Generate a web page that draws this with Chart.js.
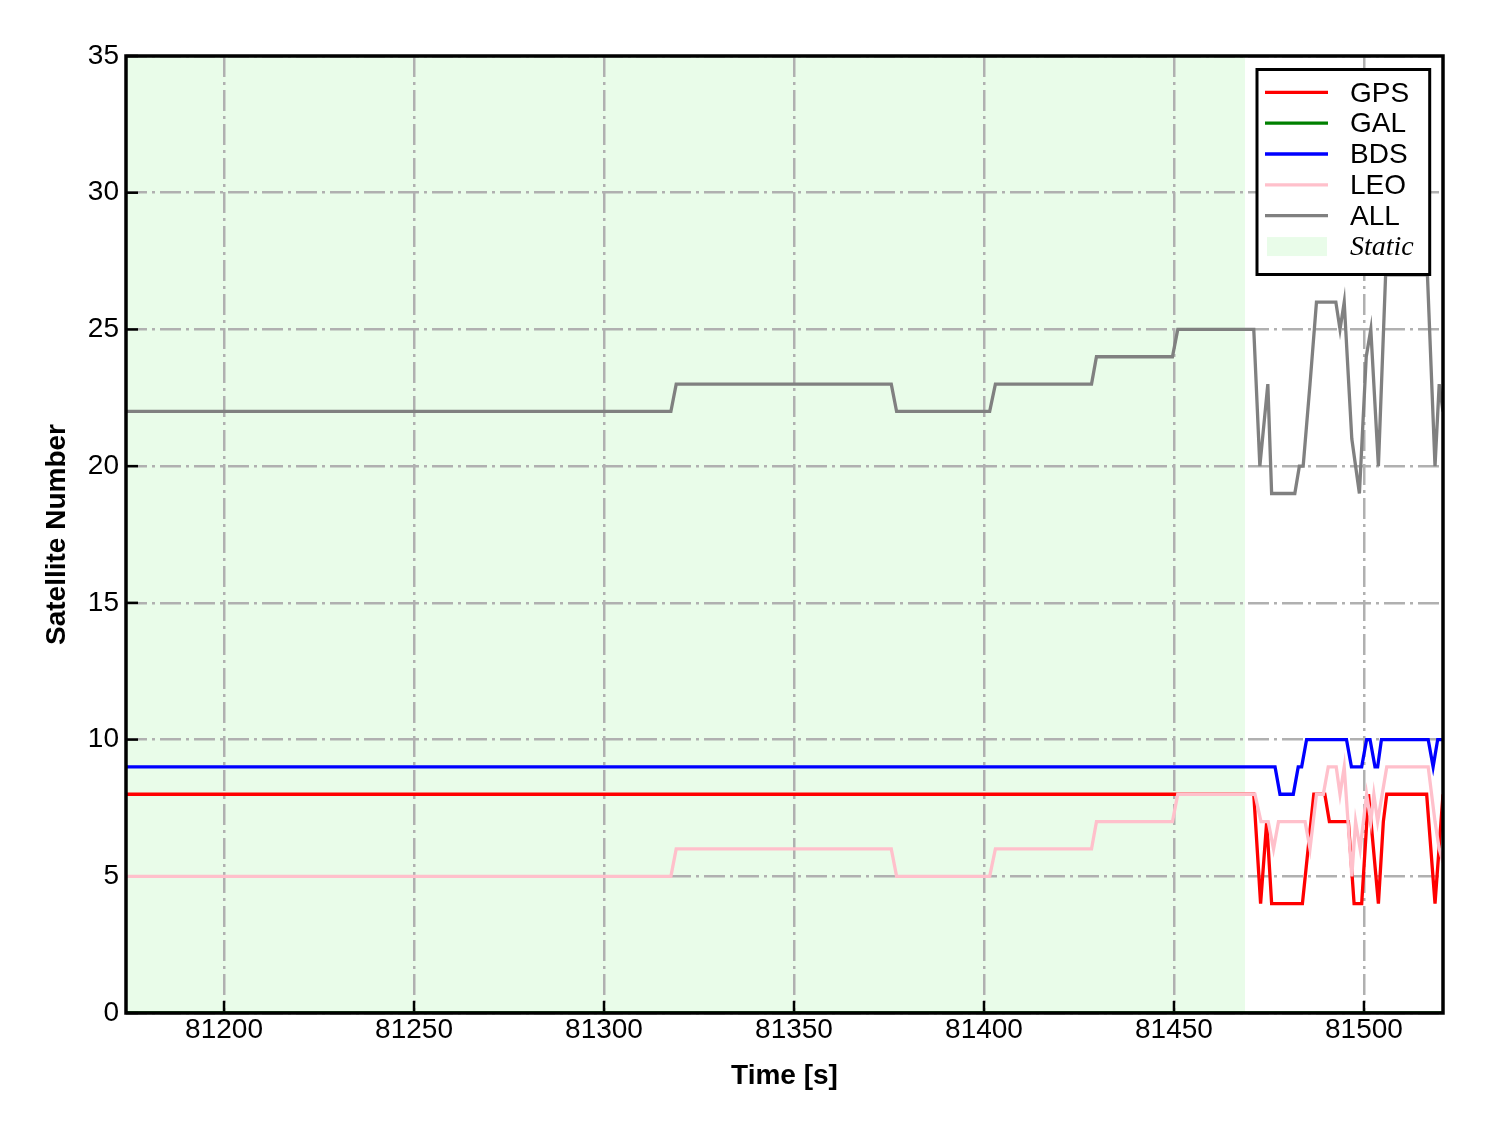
<!DOCTYPE html>
<html>
<head>
<meta charset="utf-8">
<title>Satellite Number</title>
<script src="https://cdn.jsdelivr.net/npm/chart.js@4.4.1/dist/chart.umd.min.js"></script>
<style>
    html, body { margin: 0; padding: 0; background: #fff; }
    #wrap { width: 1488px; height: 1133px; }
</style>
</head>
<body>
<div id="wrap"><canvas id="satChart" width="1488" height="1133"></canvas></div>
<script>
// change points: time [s] and satellite count
var gpsTime = [81174.2, 81471, 81472.8, 81474.4, 81475.7, 81483.8, 81486.8, 81489.7, 81490.9, 81495.9, 81497.4, 81499.4, 81501.2, 81503.8, 81505.1, 81506, 81516.5, 81518.7, 81520.8];
var gpsCount = [8, 8, 4, 7, 4, 4, 8, 8, 7, 7, 4, 4, 8, 4, 7, 8, 8, 4, 8];

var galTime = [81174.2, 81520.8];
var galCount = [0, 0];

var bdsTime = [81174.2, 81476.6, 81477.9, 81481.4, 81482.7, 81483.6, 81484.9, 81495.4, 81496.7, 81499.4, 81500.7, 81501.6, 81502.9, 81503.6, 81504.6, 81516.9, 81518.2, 81519.4, 81520.8];
var bdsCount = [9, 9, 8, 8, 9, 9, 10, 10, 9, 9, 10, 10, 9, 9, 10, 10, 9, 10, 10];

var leoTime = [81174.2, 81317.6, 81319, 81375.6, 81377, 81401.5, 81403, 81428.3, 81429.6, 81449.6, 81451, 81471.3, 81472.9, 81474.8, 81476.2, 81477.5, 81484.5, 81485.8, 81487.5, 81489.3, 81490.6, 81492.7, 81493.7, 81494.8, 81496.8, 81497.8, 81499, 81500.7, 81501.8, 81502.6, 81503.6, 81506, 81516.9, 81518.7, 81519.8, 81520.8];
var leoCount = [5, 5, 6, 6, 5, 5, 6, 6, 7, 7, 8, 8, 7, 7, 6, 7, 7, 6, 8, 8, 9, 9, 8, 9, 5, 7, 6, 8, 7, 8, 7, 9, 9, 7, 6, 5.5];

var allTime = [81174.2, 81317.6, 81319, 81375.6, 81377, 81401.5, 81403, 81428.3, 81429.6, 81449.6, 81451, 81471, 81472.6, 81474.7, 81475.7, 81481.8, 81483, 81484, 81485.8, 81487.5, 81492.6, 81493.7, 81494.8, 81496.8, 81498.8, 81500.6, 81501.8, 81503.8, 81505.7, 81516.7, 81518.7, 81519.8, 81520.8];
var allCount = [22, 22, 23, 23, 22, 22, 23, 23, 24, 24, 25, 25, 20, 23, 19, 19, 20, 20, 23, 26, 26, 25, 26, 21, 19, 24, 25, 20, 27, 27, 20, 23, 22];

var seriesNames = ['GPS', 'GAL', 'BDS', 'LEO', 'ALL'];
var seriesColors = ['#ff0000', '#008000', '#0000ff', '#ffc0cb', '#808080'];

var xTicks = [81200, 81250, 81300, 81350, 81400, 81450, 81500];
var yTicks = [0, 5, 10, 15, 20, 25, 30, 35];
var xMin = 81174.2, xMax = 81520.8;
var staticStart = 81174.2, staticEnd = 81468.7;

var sans = '"Liberation Sans", Arial, sans-serif';
var staticFill = 'rgba(144,238,144,0.2)';
var gridColor = '#b0b0b0';

function pairs(t, n) {
    return t.map(function (v, i) { return { x: v, y: n[i] }; });
}

var seriesData = [
    pairs(gpsTime, gpsCount),
    pairs(galTime, galCount),
    pairs(bdsTime, bdsCount),
    pairs(leoTime, leoCount),
    pairs(allTime, allCount)
];

var frame = {
    id: 'frame',
    beforeDraw: function (chart) {
        var a = chart.chartArea, ctx = chart.ctx, xs = chart.scales.x;
        var x0 = Math.max(xs.getPixelForValue(staticStart), a.left);
        var x1 = xs.getPixelForValue(staticEnd);
        ctx.save();
        ctx.fillStyle = staticFill;
        ctx.fillRect(x0, a.top, x1 - x0, a.bottom - a.top);
        ctx.restore();
    },
    beforeDatasetsDraw: function (chart) {
        // inward tick marks, under the data lines
        var a = chart.chartArea, ctx = chart.ctx;
        var xs = chart.scales.x, ys = chart.scales.y;
        ctx.save();
        ctx.strokeStyle = '#000';
        ctx.lineWidth = 2.5;
        xTicks.forEach(function (v) {
            var p = xs.getPixelForValue(v);
            ctx.beginPath();
            ctx.moveTo(p, a.bottom);
            ctx.lineTo(p, a.bottom - 12);
            ctx.stroke();
        });
        yTicks.forEach(function (v) {
            var p = ys.getPixelForValue(v);
            ctx.beginPath();
            ctx.moveTo(a.left, p);
            ctx.lineTo(a.left + 12, p);
            ctx.stroke();
        });
        ctx.restore();
    },
    afterDraw: function (chart) {
        var a = chart.chartArea, ctx = chart.ctx;
        ctx.save();

        // axes box
        ctx.strokeStyle = '#000';
        ctx.lineWidth = 3.5;
        ctx.strokeRect(a.left, a.top, a.right - a.left, a.bottom - a.top);

        // legend
        var bx = a.right - 186, by = a.top + 13.5, bw = 172.7, bh = 205;
        ctx.fillStyle = '#fff';
        ctx.fillRect(bx, by, bw, bh);
        ctx.lineWidth = 3;
        ctx.strokeRect(bx, by, bw, bh);

        var rowY = by + 22.8, step = 30.85;
        ctx.font = '28px ' + sans;
        ctx.textAlign = 'left';
        ctx.textBaseline = 'middle';
        seriesNames.forEach(function (name, i) {
            var y = rowY + i * step;
            ctx.strokeStyle = seriesColors[i];
            ctx.lineWidth = 3.3;
            ctx.beginPath();
            ctx.moveTo(bx + 8, y);
            ctx.lineTo(bx + 71, y);
            ctx.stroke();
            ctx.fillStyle = '#000';
            ctx.fillText(name, bx + 93, y + 1.5);
        });
        var sy = rowY + 5 * step;
        ctx.fillStyle = staticFill;
        ctx.fillRect(bx + 10, sy - 9.5, 60, 19);
        ctx.fillStyle = '#000';
        ctx.font = 'italic 28px "Liberation Serif", "Times New Roman", serif';
        ctx.fillText('Static', bx + 93, sy + 1.5);

        // axis titles
        ctx.font = 'bold 28px ' + sans;
        ctx.textAlign = 'center';
        ctx.fillText('Time [s]', (a.left + a.right) / 2, 1076);
        ctx.translate(57, (a.top + a.bottom) / 2);
        ctx.rotate(-Math.PI / 2);
        ctx.fillText('Satellite Number', 0, 0);
        ctx.restore();
    }
};

var order = [5, 4, 3, 2, 1];

new Chart(document.getElementById('satChart').getContext('2d'), {
    type: 'line',
    data: {
        datasets: seriesNames.map(function (name, i) {
            return {
                label: name,
                data: seriesData[i],
                borderColor: seriesColors[i],
                backgroundColor: seriesColors[i],
                borderWidth: 3.3,
                pointRadius: 0,
                tension: 0,
                fill: false,
                order: order[i]
            };
        })
    },
    options: {
        responsive: false,
        animation: false,
        devicePixelRatio: 1,
        layout: { padding: { top: 56, right: 45, left: 0, bottom: 0 } },
        plugins: { legend: { display: false }, tooltip: { enabled: false } },
        scales: {
            x: {
                type: 'linear',
                min: xMin,
                max: xMax,
                afterBuildTicks: function (s) { s.ticks = xTicks.map(function (v) { return { value: v }; }); },
                afterFit: function (s) { s.height = 120; },
                ticks: {
                    autoSkip: false,
                    maxRotation: 0,
                    padding: 0,
                    color: '#000',
                    font: { family: sans, size: 28 },
                    callback: function (v) { return String(v); }
                },
                grid: { color: gridColor, lineWidth: 2.5, drawTicks: false },
                border: { display: false, dash: [21, 5, 3, 5] }
            },
            y: {
                min: 0,
                max: 35,
                afterBuildTicks: function (s) { s.ticks = yTicks.map(function (v) { return { value: v }; }); },
                afterFit: function (s) { s.width = 126; },
                ticks: {
                    padding: 7,
                    color: '#000',
                    font: { family: sans, size: 28 },
                    callback: function (v) { return String(v); }
                },
                grid: { color: gridColor, lineWidth: 2.5, drawTicks: false },
                border: { display: false, dash: [21, 5, 3, 5] }
            }
        }
    },
    plugins: [frame]
});
</script>
</body>
</html>
